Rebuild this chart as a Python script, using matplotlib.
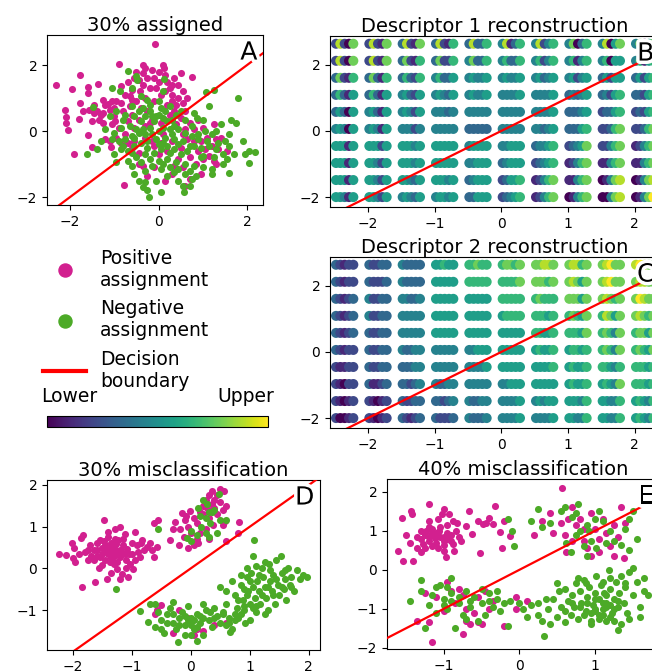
import numpy as np
import matplotlib
matplotlib.use("Agg")
import matplotlib.pyplot as plt
import matplotlib.patheffects as pe
from matplotlib.lines import Line2D
from matplotlib.cm import ScalarMappable
from matplotlib.colors import Normalize

W, H = 652, 672
POS_COLOR = "#d2208f"
NEG_COLOR = "#4caa27"

# decision boundary used in every panel
boundary_x = [-3.0, 3.0]
boundary_y = [-3.0, 3.0]

# ---- panel A: 30% assigned ----
a_pos = [(-2.32, 1.39), (-1.96, 1.26), (-1.77, 1.70), (-2.11, 0.64), (-2.08, 0.43), (-2.08, 0.23),
         (-2.05, 0.03), (-1.92, -0.68), (-1.77, 0.84), (-1.79, 0.38), (-1.6, 1.32), (-1.6, 1.14),
         (-1.58, 0.64), (-1.6, -0.12), (-1.5, -0.47), (-1.36, 1.42), (-1.45, 0.55), (-1.38, 0.62),
         (-1.3, 0.48), (-1.25, 0.55), (-1.35, 0.35), (-1.2, 0.8), (-1.15, 0.82), (-1.1, 0.65),
         (-1.05, 0.9), (-0.95, 0.92), (-0.9, 2.03), (-1.0, 0.45), (-1.05, 0.2), (-0.98, 0.3),
         (-1.08, -0.47), (-1.1, -0.3), (-1.2, -0.25), (-0.79, -1.64), (-0.85, 1.35), (-0.7, 1.5),
         (-0.75, 1.1), (-0.65, 0.75), (-0.6, 1.25), (-0.55, 1.6), (-0.5, 1.8), (-0.45, 1.55),
         (-0.42, 1.2), (-0.35, 1.75), (-0.3, 1.9), (-0.07, 2.64), (-0.15, 1.85), (-0.1, 1.6),
         (0.0, 1.5), (0.1, 2.0), (0.12, 1.9), (0.15, 1.7), (0.2, 1.5), (0.25, 1.3), (0.3, 1.1),
         (0.35, 1.6), (0.5, 1.75), (0.75, 1.65), (0.55, 1.2), (0.45, 1.0), (-0.2, 1.3), (-0.3, 1.0),
         (-0.5, 0.9), (-0.8, 0.6), (-0.7, 0.3), (-0.6, 0.5), (-0.4, 0.7), (-0.25, 0.6), (-0.1, 0.9),
         (0.05, 1.1), (0.2, 0.8), (0.4, 0.8), (0.6, 0.6), (0.5, 0.4), (0.25, 0.5), (-0.9, 0.1),
         (-0.75, -0.1), (-0.55, 0.1), (-0.95, -0.2), (-0.85, -0.35), (-0.6, -0.5), (-0.3, -0.2),
         (0.1, -0.1), (0.3, -0.3), (0.5, -0.5), (0.7, -0.8), (0.95, -0.3), (1.1, -0.2), (1.25, 0.2),
         (1.0, 0.1), (0.9, 0.35), (1.3, -0.25), (1.4, -0.2), (1.35, -0.55), (1.25, -0.9), (1.0, -0.85),
         (0.95, -1.3), (0.7, -1.45), (0.6, -1.65), (0.3, -1.3), (0.35, -1.05), (-0.25, -1.35),
         (-0.35, -1.05), (-0.45, -1.0), (0.0, -0.7), (0.2, -0.6), (-0.1, -0.45), (0.55, -0.1),
         (0.8, 0.05), (1.05, -0.55), (1.3, -1.0), (1.55, -0.6), (0.15, 0.35), (-0.15, 0.35),
         (0.35, 0.6), (0.7, 0.25), (-1.45, 0.8), (-1.7, 0.6), (-1.25, 0.25), (-0.55, -0.3),
         (0.45, -0.85), (0.15, -1.5), (-0.1, -1.1), (0.9, -0.6), (1.15, -0.75), (0.65, -0.25),
         (-0.35, 2.0), (-0.6, 0.95), (-0.45, 0.35), (-0.2, 0.25), (0.05, 0.25), (0.3, 0.9),
         (0.15, 1.2), (-0.05, 1.3), (-0.35, 1.4), (-0.65, 1.05), (-0.85, 0.85), (-1.0, 0.7),
         (-0.3, 0.15), (0.4, 0.2), (0.6, 0.05), (0.8, -0.3), (1.2, -0.45), (0.55, -1.1),
         (0.85, -1.0), (-0.45, -0.65), (-0.7, -0.35), (-0.15, -0.3), (0.05, -0.35), (0.45, 1.4),
         (0.65, 1.0), (-1.25, 0.95), (-1.5, 0.3), (-0.25, 1.6), (0.0, 1.8), (0.3, 1.4), (0.55, 0.85)]
a_neg = [(-0.7, 1.82), (-0.52, 1.67), (-0.48, 1.55), (-1.05, 1.29), (-0.88, 1.2), (-0.6, 1.3),
         (-0.4, 1.05), (0.12, 1.57), (1.07, 1.19), (1.25, 1.25), (1.79, 1.01), (1.13, 0.76),
         (0.8, 0.55), (0.88, 0.4), (1.64, 0.33), (1.75, 0.25), (1.4, 0.2), (-1.47, 0.74),
         (-1.62, -0.68), (-1.4, -0.55), (-1.2, 0.05), (-1.1, 0.45), (-0.95, 0.6), (-0.8, 0.35),
         (-0.75, 0.5), (-0.55, 0.45), (-0.4, 0.3), (-0.3, 0.45), (-0.2, 0.1), (-0.1, 0.3),
         (0.0, 0.5), (0.05, 0.7), (0.15, 0.6), (0.2, 0.3), (0.3, 0.35), (0.1, 0.1), (0.0, 0.0),
         (-0.15, -0.1), (-0.3, -0.1), (-0.45, -0.05), (-0.6, -0.15), (-0.75, -0.25), (-0.9, -0.3),
         (-1.0, -0.05), (-0.85, -0.55), (-0.7, -0.6), (-0.55, -0.45), (-0.4, -0.35), (-0.25, -0.3),
         (-0.05, -0.25), (0.15, -0.2), (0.3, -0.1), (0.45, 0.05), (0.6, -0.05), (0.75, -0.15),
         (0.9, -0.1), (1.05, 0.0), (1.2, -0.1), (1.35, -0.35), (1.5, -0.3), (1.6, -0.45),
         (1.45, -0.7), (1.3, -0.55), (1.15, -0.45), (0.95, -0.5), (0.8, -0.45), (0.65, -0.6),
         (0.5, -0.7), (0.35, -0.55), (0.2, -0.45), (0.05, -0.55), (-0.1, -0.65), (-0.3, -0.7),
         (-0.5, -0.8), (-0.7, -0.9), (-0.6, -1.05), (-0.4, -0.95), (-0.2, -0.85), (0.0, -0.9),
         (0.2, -0.85), (0.4, -0.95), (0.6, -1.0), (0.8, -1.05), (1.0, -1.1), (1.2, -1.15),
         (0.7, -1.2), (0.45, -1.15), (0.25, -1.1), (0.05, -1.15), (-0.15, -1.05), (-0.55, -1.3),
         (-0.45, -1.5), (-0.35, -1.7), (-0.22, -1.99), (-0.25, -1.8), (-0.05, -1.5), (0.2, -1.35),
         (0.45, -1.5), (0.58, -1.84), (0.7, -1.65), (0.75, -1.45), (1.2, -1.3), (1.45, -1.0),
         (1.6, -1.28), (1.9, -0.3), (2.05, -0.6), (2.05, -0.98), (2.17, -0.63), (1.95, -0.7),
         (1.7, -0.7), (0.9, -0.25), (1.0, -0.75), (-0.35, 0.7), (-0.2, 0.8), (0.0, 0.9),
         (0.25, 0.75), (0.5, 0.6), (0.6, 0.35), (-0.65, 0.15), (-0.5, 0.05), (-0.85, 0.1),
         (-1.3, -0.3), (-1.0, -0.7), (0.1, -0.35), (0.35, -0.25), (0.55, -0.3), (-0.15, 0.45),
         (0.25, 0.05), (-0.95, -0.95), (1.1, -0.3), (-0.2, 0.6), (-0.05, 0.45), (0.1, 0.4),
         (0.35, 0.15), (-0.35, 0.05), (-0.55, -0.2), (-0.25, -0.5), (0.0, -0.4), (0.25, -0.65),
         (0.45, -0.4), (0.7, -0.45), (0.95, -0.8), (1.25, -0.8), (1.55, -0.85), (0.6, -1.3),
         (0.35, -1.25), (0.1, -1.0), (-0.3, -1.2), (-0.6, -0.65), (-0.8, -0.45), (-1.05, -0.25),
         (-0.45, 0.6), (-0.6, 0.75), (-0.25, 0.95), (0.1, 1.2), (0.4, 0.5), (0.75, 0.15),
         (1.0, 0.35), (1.3, 0.0), (1.6, -0.1), (0.85, -1.35), (0.55, -1.65), (0.05, -1.85),
         (-0.3, -1.55)]

# ---- panel D: 30% misclassification ----
d_pos = [(-2.23, 0.34), (-2.12, 0.31), (-2.02, 0.61), (-1.98, 0.5), (-1.96, 0.15), (-1.85, -0.45),
         (-1.86, 0.74), (-1.83, 0.79), (-1.75, 0.43), (-1.71, 0.55), (-1.65, 0.19), (-1.62, -0.33),
         (-1.59, 0.43), (-1.54, 0.27), (-1.48, 1.15), (-1.51, 0.07), (-1.42, -0.25), (-1.4, 0.87),
         (-1.37, 0.51), (-1.34, 0.19), (-1.28, 0.43), (-1.25, -0.01), (-1.23, 0.67), (-1.2, 0.27),
         (-1.17, -0.13), (-1.11, 0.83), (-1.08, 0.47), (-1.03, 0.11), (-1.0, 0.35), (-0.94, 0.87),
         (-0.92, 0.55), (-0.86, 0.27), (-0.83, 0.69), (-0.75, 0.51), (-0.66, 0.43), (-0.58, 0.51),
         (-0.63, 0.27), (-0.98, -0.01), (-1.06, -0.21), (-1.31, 0.11), (-1.45, 0.43), (-1.54, 0.67),
         (-1.28, 0.95), (-1.2, 1.0), (-1.35, 0.6), (-1.3, 0.3), (-1.25, 0.4), (-1.4, 0.35),
         (-1.45, 0.2), (-1.5, 0.5), (-1.15, 0.55), (-1.1, 0.2), (-1.05, 0.35), (-1.2, 0.45),
         (-1.3, 0.5), (-1.35, 0.25), (-1.6, 0.3), (-1.65, 0.45), (-1.7, 0.3), (-1.8, 0.4),
         (-1.9, 0.35), (-1.25, 0.15), (-1.15, 0.7), (-1.0, 0.6), (-0.9, 0.4), (-0.8, 0.45),
         (-1.4, 0.75), (-1.55, 0.0), (-1.2, -0.25), (-1.35, -0.1), (-0.7, 0.6), (-1.1, 0.0),
         (-1.45, 0.55), (-1.28, 0.7), (-1.5, 0.35), (-1.4, 0.45), (-1.32, 0.38), (-1.22, 0.33),
         (-1.18, 0.42), (-1.38, 0.15), (-1.6, 0.6), (-1.12, 0.35), (-1.27, 0.58), (-1.47, 0.65),
         (-0.95, 0.2), (-0.85, 0.6), (-1.75, 0.2), (-2.0, 0.25),
         (-0.35, 0.69), (-0.2, 0.55), (-0.15, 1.32), (-0.27, 1.11), (-0.3, 0.95), (-0.18, 0.95),
         (-0.1, 1.15), (-0.05, 1.0), (0.0, 0.85), (0.05, 1.2), (0.1, 1.1), (-0.12, 0.75),
         (0.05, 0.55), (-0.05, 0.5), (0.12, 0.6), (0.15, 1.35), (0.2, 1.5), (0.25, 1.65),
         (0.3, 1.75), (0.35, 1.55), (0.4, 1.45), (0.45, 1.3), (0.5, 1.6), (0.5, 1.91), (0.57, 1.85),
         (0.55, 1.4), (0.6, 1.5), (0.45, 1.75), (0.35, 1.85), (0.2, 1.3), (0.3, 1.2), (0.38, 1.05),
         (0.25, 0.95), (-0.02, 1.38), (0.58, 1.14), (0.82, 1.12), (0.8, 0.85), (0.6, 0.65),
         (0.55, 1.05), (0.15, 0.85), (-0.08, 1.25), (0.28, 1.45), (0.4, 1.65), (0.3, 0.7),
         (0.1, 0.7), (-0.55, 1.15), (-0.62, 1.1),
         (-0.58, -1.0), (-0.5, -0.88), (-0.6, -1.1), (-0.2, -1.0), (0.1, -1.45), (0.2, -1.5),
         (-0.3, -1.55), (0.05, -1.6), (0.4, -1.35), (0.6, -1.3), (-0.05, -1.2)]
d_neg = [(-0.56, 0.95), (0.0, 0.9), (0.1, 0.8), (0.17, 1.0), (0.25, 1.2), (0.15, 1.25),
         (0.3, 1.35), (0.28, 1.55), (0.35, 1.35), (0.25, 0.85), (0.3, 0.75), (0.45, 0.85),
         (0.33, 1.1), (0.47, 1.79), (0.5, 1.15), (0.6, 1.15), (-0.07, 0.72), (0.0, 0.65),
         (0.2, 1.65), (0.4, 1.4), (0.12, 1.45), (-1.27, -0.49), (1.07, 0.69),
         (-0.86, -1.03), (-0.7, -0.85), (-0.72, -1.29), (-0.6, -1.4), (-0.5, -1.25), (-0.45, -1.55),
         (-0.4, -1.1), (-0.35, -0.95), (-0.3, -1.3), (-0.25, -1.45), (-0.2, -1.2), (-0.15, -1.05),
         (-0.1, -1.35), (-0.05, -0.9), (0.0, -1.2), (0.05, -1.45), (0.1, -1.1), (0.15, -1.3),
         (0.2, -1.6), (0.25, -1.0), (0.3, -1.25), (0.35, -1.4), (0.45, -1.15), (0.5, -1.3),
         (0.55, -1.05), (0.6, -1.35), (0.65, -1.2), (0.7, -1.45), (0.75, -1.25), (-0.21, -1.77),
         (0.0, -1.6), (0.1, -1.75), (-0.55, -1.05), (-0.3, -0.8), (0.2, -0.85), (-0.1, -1.6),
         (0.4, -0.95), (-0.05, -1.25), (0.1, -1.4), (0.32, -1.05), (-0.6, -0.85),
         (-0.4, -1.3), (-0.2, -1.35), (0.0, -1.35), (0.15, -1.15), (-0.1, -1.15), (0.2, -1.2),
         (-0.3, -1.1), (0.4, -1.2), (-0.5, -1.45), (0.05, -1.25),
         (0.5, -0.45), (0.55, -1.1), (0.6, -0.85), (0.65, -1.3), (0.67, -1.53), (0.75, -0.65),
         (0.78, -0.95), (0.8, -1.2), (0.85, -0.4), (0.88, -0.75), (0.9, -1.0), (0.92, -1.3),
         (0.95, -0.2), (0.97, -0.55), (1.0, -0.85), (1.02, -0.1), (1.05, -0.45), (1.08, -0.7),
         (1.1, 0.05), (1.1, -1.05), (1.12, -0.3), (1.15, -0.55), (1.18, -0.85), (1.2, 0.0),
         (1.22, -0.2), (1.25, -0.45), (1.28, -0.7), (1.3, -1.0), (1.32, 0.1), (1.35, -0.3),
         (1.38, -0.55), (1.4, -0.15), (1.42, -0.85), (1.45, 0.2), (1.48, -0.4), (1.5, -0.65),
         (1.53, 0.29), (1.55, -0.1), (1.58, -0.5), (1.6, -0.25), (1.62, -0.75), (1.65, 0.0),
         (1.68, -0.4), (1.7, -0.2), (1.75, -0.55), (1.8, -0.05), (1.85, -0.25), (1.97, -0.21),
         (1.9, -0.15), (1.05, 0.29), (0.95, 0.0), (0.85, -0.15), (0.7, -0.3), (0.6, -0.55),
         (1.0, -1.25), (1.25, -1.1), (0.85, -1.1), (0.75, -1.1), (1.1, -0.9), (1.35, -0.05),
         (0.9, -0.5), (0.95, -0.65), (1.05, -0.95), (1.15, -0.15), (1.3, -0.45), (1.45, -0.25),
         (1.55, -0.45), (1.2, -0.65), (1.0, -0.3), (0.8, -0.75), (1.4, -0.65), (1.6, -0.05),
         (1.7, -0.45), (1.25, 0.15), (0.9, -0.9)]

# ---- panel E: 40% misclassification ----
e_pos = [(-1.6, 0.49), (-1.54, 0.23), (-1.55, 1.34), (-1.42, 1.43), (-1.41, 0.23), (-1.43, 1.51),
         (-1.35, 0.57), (-1.28, 0.66), (-1.24, 1.0), (-1.19, 1.68), (-1.19, 1.26), (-1.1, 0.87),
         (-1.08, 1.3), (-1.06, 1.0), (-1.02, 1.43), (-0.99, 1.56), (-0.99, 0.49), (-0.95, 0.8),
         (-0.93, 1.43), (-0.88, 1.26), (-0.84, 1.0), (-0.82, 1.21), (-0.97, 0.32), (-0.88, 0.66),
         (-0.86, 0.49), (-0.77, 0.74), (-0.71, 1.13), (-0.66, 1.51), (-0.62, 0.91), (-0.55, 1.26),
         (-0.52, 0.44), (-0.48, 1.17), (-0.44, 1.21), (-0.4, 1.34), (-0.35, 1.17), (-0.32, 1.64),
         (-0.26, 0.96), (-0.23, 0.57), (-0.2, 1.26), (-0.13, 0.87),
         (-1.3, 0.8), (-1.25, 0.9), (-1.2, 0.75), (-1.15, 0.95), (-1.1, 0.7), (-1.05, 0.85),
         (-1.0, 0.65), (-0.95, 0.95), (-1.15, 0.6), (-1.25, 0.55), (-1.0, 0.75), (-1.2, 1.1),
         (-1.3, 0.45), (-1.45, 0.7), (-1.5, 0.9), (-0.9, 0.75), (-1.08, 0.55), (-1.12, 0.82),
         (-1.2, 0.85), (-1.1, 0.95), (-1.0, 0.85), (-0.9, 0.9), (-1.05, 1.1), (-1.15, 1.05),
         (-1.3, 1.0), (-0.8, 0.85), (-0.95, 1.15), (-1.35, 0.85),
         (0.57, 2.1), (0.2, 0.9), (0.4, 1.45), (0.55, 1.2), (0.6, 0.9), (0.62, 0.45), (0.7, 1.6),
         (0.75, 1.15), (0.8, 1.3), (0.85, 0.75), (0.9, 0.55), (0.95, 1.45), (1.0, 1.05),
         (1.05, 0.8), (1.1, 1.3), (1.15, 0.95), (1.2, 0.6), (1.25, 1.15), (1.3, 0.85), (1.35, 1.6),
         (1.4, 1.2), (1.25, 0.35), (1.38, 0.3), (0.3, 1.25), (0.45, 0.95), (0.7, 0.75),
         (0.95, 0.35), (1.05, 0.45), (0.85, 1.05), (0.65, 1.3),
         (-1.15, -1.85), (-0.95, -0.3), (-0.9, -0.55), (-1.2, -1.35), (-1.25, -0.6), (-1.1, -0.7),
         (-0.8, -0.5), (-0.75, -0.65), (-0.7, -1.0), (-0.7, -1.3), (-0.65, -1.4), (-0.55, -1.35),
         (-0.55, -0.7), (-0.5, -1.4), (-0.45, -0.55), (-0.4, -1.0), (-0.75, -1.65), (-1.0, -1.05),
         (-0.85, -0.85), (-0.35, -0.8), (-0.2, -1.45), (-0.05, -0.7), (-0.05, -1.0), (0.1, -0.8),
         (-1.35, -1.3), (-0.6, -1.1)]
e_neg = [(-0.15, 1.3), (-0.1, 1.0), (-0.07, 0.6), (0.16, 1.25), (0.25, 1.55), (0.3, 1.1),
         (0.4, 1.2), (0.55, 1.5), (0.6, 1.6), (0.62, 0.7), (0.7, 1.35), (0.75, 1.45), (0.78, 1.7),
         (0.75, 0.9), (0.8, 1.0), (0.85, 0.6), (0.9, 1.15), (0.92, 1.0), (0.95, 0.75), (1.0, 1.3),
         (1.02, 0.55), (1.05, 1.5), (1.1, 1.25), (1.15, 0.7), (1.2, 1.0), (1.25, 0.75),
         (1.35, 0.65), (1.4, 1.05), (1.45, 0.5), (1.45, 1.3), (0.68, 0.45), (0.9, 0.35),
         (1.55, 0.8), (1.5, 1.5),
         (-1.45, -0.8), (-1.3, -0.25), (-1.3, -0.55), (-1.25, -1.5), (-1.2, -0.9), (-1.15, -0.65),
         (-1.1, -1.1), (-1.05, -0.4), (-1.0, -0.75), (-0.95, -1.0), (-0.9, -0.2), (-0.9, -0.6),
         (-0.85, -1.5), (-0.8, -0.85), (-0.75, -1.15), (-0.7, -0.55), (-0.65, -0.95), (-0.6, -0.7),
         (-0.55, -1.3), (-0.5, -0.85), (-0.45, -1.15), (-0.4, -0.6), (-0.35, -0.95), (-0.3, -0.75),
         (-0.25, -1.05), (-0.2, -0.85), (-0.15, -1.45), (-0.12, -0.8), (-0.7, -1.25), (-1.1, -0.45),
         (-0.95, -0.45), (-0.3, -0.55), (-0.5, -0.5), (-0.9, -0.8), (-0.8, -0.7), (-0.65, -0.8),
         (-1.0, -0.9), (-0.4, -0.8),
         (0.0, -0.85), (0.05, -1.0), (0.15, -0.9), (0.25, -0.85), (0.25, -1.15), (0.3, -1.3),
         (0.32, -1.7), (0.38, -1.0), (0.4, -1.4), (0.45, -0.75), (0.5, -1.2), (0.52, -0.55),
         (0.55, -0.95), (0.6, -1.35), (0.6, -0.5), (0.65, -0.8), (0.68, -1.15), (0.7, -0.65),
         (0.72, -0.95), (0.75, -0.35), (0.78, -1.25), (0.8, -0.55), (0.82, -0.85), (0.85, -0.25),
         (0.88, -1.05), (0.9, -0.7), (0.92, -0.45), (0.95, -1.3), (0.98, -0.9), (1.0, -0.6),
         (1.02, -0.15), (1.05, -1.15), (1.05, -0.75), (1.08, -0.4), (1.1, -1.0), (1.12, -0.6),
         (1.15, -1.3), (1.15, -0.85), (1.18, 0.0), (1.2, -0.5), (1.22, -1.1), (1.25, -0.75),
         (1.28, -0.3), (1.3, -1.55), (1.3, -0.95), (1.32, -0.6), (1.35, -0.15), (1.38, -0.85),
         (1.4, -0.45), (1.42, -1.1), (1.45, -0.05), (1.5, -0.65), (1.55, -0.3), (1.6, -0.95),
         (1.65, -0.55), (1.7, -0.65), (1.8, -0.6), (1.6, -1.2), (1.45, -1.25), (1.2, -0.2),
         (0.95, -1.4), (0.6, -1.05), (0.35, -0.75), (0.1, -1.2), (1.35, -1.4), (1.25, -1.3),
         (1.05, -1.25), (1.1, -0.3), (0.78, -0.2), (0.5, -0.35), (1.65, -0.2), (1.5, 0.05),
         (1.4, -0.35), (1.0, -1.05), (0.85, -1.15), (1.25, -1.0), (0.88, -0.35), (1.15, -0.65),
         (0.9, -0.85), (1.0, -0.75), (1.1, -0.85), (1.2, -0.9), (1.0, -1.0), (1.1, -1.15),
         (1.2, -1.2), (0.95, -1.1), (1.3, -0.8), (1.15, -0.95), (0.8, -0.95), (0.7, -0.85)]

# ---- panels B, C: descriptor reconstruction on a grid ----
cluster_x = [-2.35, -1.85, -1.35, -0.85, -0.35, 0.15, 0.65, 1.15, 1.65, 2.15]
dot_offsets = [-0.13, -0.065, 0.0, 0.065, 0.13]
grid_rows_y = [2.635, 2.12, 1.605, 1.09, 0.575, 0.06, -0.455, -0.97, -1.485, -2.0]
# colour level 0-9 (viridis) of each dot, rows from top to bottom
desc1_levels = [
    "28207 28217 38217 38216 38336 48136 48246 47036 48057 47057",
    "28207 28217 37216 37226 47336 46336 46246 46146 46055 46156",
    "37216 37316 36326 46335 45445 45445 45345 45245 35255 35256",
    "36315 36315 45325 45435 45445 44445 44445 34345 34256 33256",
    "35305 45315 45425 44434 44444 44444 44445 33345 23356 23256",
    "45405 45415 44424 44444 33333 44444 44345 33356 22367 22367",
    "55515 55525 55545 55555 45555 44555 34456 23457 22467 12467",
    "55515 55425 55545 55555 44555 34555 23456 12467 11467 11467",
    "55515 55425 55435 55545 34555 23556 12467 11467 01478 01478",
    "55415 55425 45435 45545 33555 23456 12467 01467 00478 01479",
]
desc2_levels = [
    "32122 32233 43333 55655 66766 67767 77887 78867 78977 89877",
    "32122 32223 43333 55555 66666 66667 77767 78757 78977 78877",
    "32123 42233 44334 55555 55555 66666 67666 77757 78767 79877",
    "32123 42233 44444 55555 55555 56666 66656 67657 68757 78767",
    "32123 32233 44444 55555 55555 55555 66556 66657 67647 67757",
    "32122 32233 43344 44444 44555 55555 56556 56656 67647 67657",
    "21122 32233 33344 44444 44445 55555 55556 56556 66546 66656",
    "21022 31123 33234 43344 44444 44555 55555 56556 56547 66656",
    "21012 21012 32233 33234 43344 44445 45455 55546 55446 56546",
    "20012 21012 32123 32223 43334 44445 44445 55446 55446 56546",
]

legend_labels = ["Positive\nassignment", "Negative\nassignment", "Decision\nboundary"]
colorbar_labels = ["Lower", "Upper"]

fig = plt.figure(figsize=(W / 100, H / 100), dpi=100)


def add_ax(left, top, right, bottom):
    # pixel box -> figure fraction
    return fig.add_axes([left / W, 1 - bottom / H, (right - left) / W, (bottom - top) / H])


def panel_letter(ax, letter):
    ax.annotate(letter, xy=(1, 1), xycoords="axes fraction", xytext=(-4, -4),
                textcoords="offset points", ha="right", va="top", fontsize=18, zorder=10,
                path_effects=[pe.withStroke(linewidth=5, foreground="white")])


def scatter_panel(ax, pos, neg, title, letter, xlim, ylim, xticks, yticks):
    p = np.array(pos)
    n = np.array(neg)
    ax.scatter(p[:, 0], p[:, 1], s=26, c=POS_COLOR, linewidths=0)
    ax.scatter(n[:, 0], n[:, 1], s=26, c=NEG_COLOR, linewidths=0)
    ax.plot(boundary_x, boundary_y, color="red", lw=1.6, zorder=5)
    ax.set_xlim(*xlim)
    ax.set_ylim(*ylim)
    ax.set_xticks(xticks)
    ax.set_yticks(yticks)
    ax.set_title(title, fontsize=14, pad=3)
    ax.tick_params(labelsize=10)
    panel_letter(ax, letter)


def grid_panel(ax, levels, title, letter):
    xs, ys, cs = [], [], []
    for yv, row in zip(grid_rows_y, levels):
        for cx, cluster in zip(cluster_x, row.split()):
            for off, d in zip(dot_offsets, cluster):
                xs.append(cx + off)
                ys.append(yv)
                cs.append(int(d) / 9)
    ax.scatter(xs, ys, c=cs, cmap="viridis", vmin=0, vmax=1, s=52, linewidths=0)
    ax.plot(boundary_x, boundary_y, color="red", lw=1.6, zorder=5)
    ax.set_xlim(-2.57, 2.38)
    ax.set_ylim(-2.3, 2.87)
    ax.set_xticks([-2, -1, 0, 1, 2])
    ax.set_yticks([-2, 0, 2])
    ax.set_title(title, fontsize=14, pad=3)
    ax.tick_params(labelsize=10)
    panel_letter(ax, letter)


ax_a = add_ax(47, 35, 263, 205)
scatter_panel(ax_a, a_pos, a_neg, "30% assigned", "A", (-2.52, 2.36), (-2.24, 2.91),
              [-2, 0, 2], [-2, 0, 2])

ax_b = add_ax(330, 36, 660, 207)
grid_panel(ax_b, desc1_levels, "Descriptor 1 reconstruction", "B")

ax_c = add_ax(330, 257, 660, 428)
grid_panel(ax_c, desc2_levels, "Descriptor 2 reconstruction", "C")

ax_d = add_ax(47, 480, 320, 650)
scatter_panel(ax_d, d_pos, d_neg, "30% misclassification", "D", (-2.44, 2.19), (-1.96, 2.12),
              [-2, -1, 0, 1, 2], [-1, 0, 1, 2])

ax_e = add_ax(387, 479, 660, 649)
scatter_panel(ax_e, e_pos, e_neg, "40% misclassification", "E", (-1.75, 1.86), (-2.03, 2.33),
              [-1, 0, 1], [-2, -1, 0, 1, 2])

# legend
handles = [Line2D([], [], marker="o", ls="", color=POS_COLOR, markersize=9.4),
           Line2D([], [], marker="o", ls="", color=NEG_COLOR, markersize=9.4),
           Line2D([], [], color="red", lw=3)]
fig.legend(handles, legend_labels, loc="upper left", bbox_to_anchor=(43 / W, 1 - 249 / H),
           frameon=False, fontsize=13.5, handlelength=2.3, handletextpad=0.75,
           borderpad=0, borderaxespad=0, labelspacing=0.5)

# colorbar
cax = add_ax(47, 416, 268, 427)
cb = fig.colorbar(ScalarMappable(norm=Normalize(0, 1), cmap="viridis"), cax=cax,
                  orientation="horizontal")
cb.set_ticks([0.1, 0.9])
cb.set_ticklabels(colorbar_labels)
cax.xaxis.set_ticks_position("top")
cax.tick_params(length=0, pad=7, labelsize=13.5)

fig.savefig("out.png", dpi=100)
